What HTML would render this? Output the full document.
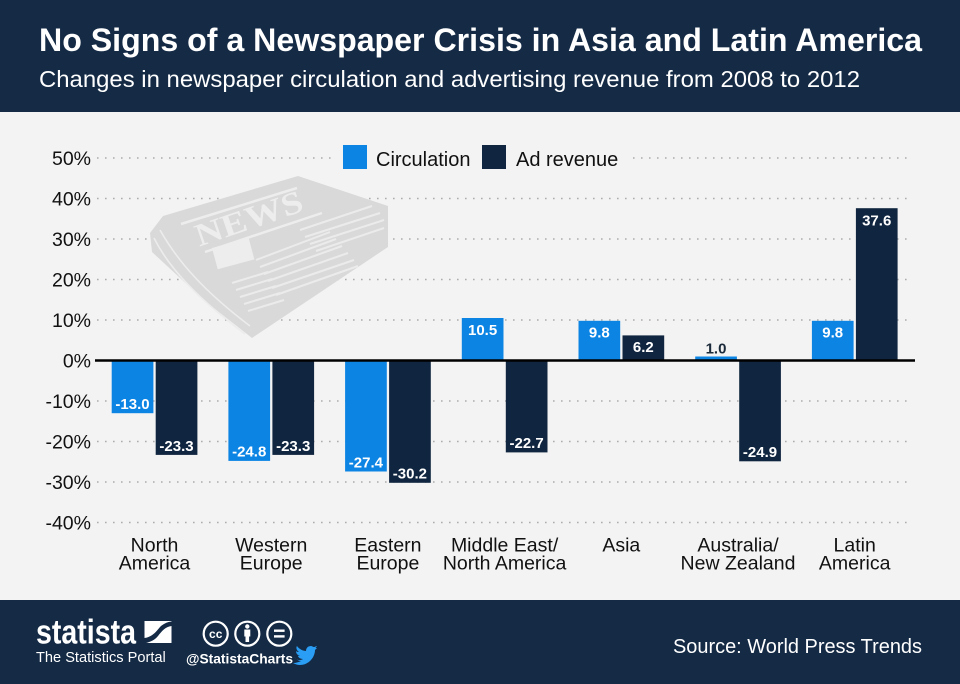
<!DOCTYPE html>
<html><head><meta charset="utf-8"><style>
html,body{margin:0;padding:0;background:#f3f3f3;}
svg{display:block;}
text{font-family:"Liberation Sans",Arial,sans-serif;}
</style></head><body>
<svg width="960" height="684" viewBox="0 0 960 684" xmlns="http://www.w3.org/2000/svg">
<rect x="0" y="0" width="960" height="684" fill="#f3f3f3"/>
<!-- header -->
<rect x="0" y="0" width="960" height="112" fill="#142a45"/>
<text x="39" y="51" font-size="32" font-weight="bold" fill="#ffffff" textLength="883" lengthAdjust="spacingAndGlyphs">No Signs of a Newspaper Crisis in Asia and Latin America</text>
<text x="39" y="87" font-size="23.5" fill="#ffffff" textLength="821" lengthAdjust="spacingAndGlyphs">Changes in newspaper circulation and advertising revenue from 2008 to 2012</text>

<!-- gridlines -->
<g stroke="#adadad" stroke-width="1.6" stroke-dasharray="1.6 6.4">
<line x1="97" y1="158" x2="910" y2="158"/>
<line x1="97" y1="198.5" x2="910" y2="198.5"/>
<line x1="97" y1="239" x2="910" y2="239"/>
<line x1="97" y1="279.5" x2="910" y2="279.5"/>
<line x1="97" y1="320" x2="910" y2="320"/>
<line x1="97" y1="401" x2="910" y2="401"/>
<line x1="97" y1="441.5" x2="910" y2="441.5"/>
<line x1="97" y1="482" x2="910" y2="482"/>
<line x1="97" y1="522.5" x2="910" y2="522.5"/>
</g>

<!-- newspaper watermark -->
<polygon points="163,216 298,176 388,206 388,247 252,338 206,302 152,252 150,233" fill="#d9d9d9"/>
<g stroke="#ececec" stroke-width="1.6" fill="none">
<path d="M154,238 C170,270 200,300 245,334"/>
<path d="M160,230 C178,262 205,292 250,326"/>
</g>
<g transform="translate(249,219) rotate(-19)">
<text x="0" y="10" style="font-family:'Liberation Serif',serif" font-size="32" font-weight="bold" fill="#ededed" text-anchor="middle" textLength="112" lengthAdjust="spacingAndGlyphs">NEWS</text>
</g>
<g stroke="#ededed" stroke-width="2.5">
<line x1="181" y1="224" x2="297" y2="188"/>
<line x1="205" y1="252" x2="322" y2="213"/>
</g>
<g transform="translate(212,248) rotate(-15)"><rect x="0" y="0" width="38" height="22" fill="#ededed"/></g>
<g stroke="#ebebeb" stroke-width="2">
<line x1="256" y1="260" x2="330" y2="232"/>
<line x1="260" y1="267" x2="336" y2="239"/>
<line x1="264" y1="274" x2="342" y2="246"/>
<line x1="268" y1="281" x2="348" y2="253"/>
<line x1="272" y1="288" x2="354" y2="260"/>
<line x1="276" y1="295" x2="358" y2="266"/>
<line x1="300" y1="230" x2="372" y2="206"/>
<line x1="305" y1="237" x2="380" y2="213"/>
<line x1="310" y1="244" x2="384" y2="220"/>
<line x1="316" y1="251" x2="384" y2="228"/>
<line x1="232" y1="283" x2="268" y2="272"/>
<line x1="236" y1="290" x2="272" y2="279"/>
<line x1="240" y1="297" x2="276" y2="286"/>
<line x1="244" y1="304" x2="280" y2="293"/>
<line x1="248" y1="311" x2="284" y2="300"/>
</g>

<!-- legend -->
<rect x="333" y="143" width="297" height="30" fill="#f3f3f3"/>
<rect x="343" y="145" width="24" height="24" fill="#0c84e4"/>
<text x="376" y="166" font-size="20" fill="#111">Circulation</text>
<rect x="482" y="145" width="24" height="24" fill="#10253f"/>
<text x="516" y="166" font-size="20" fill="#111">Ad revenue</text>

<!-- y-axis labels -->
<g font-size="19.5" fill="#111" text-anchor="end">
<text x="91" y="165">50%</text>
<text x="91" y="205.5">40%</text>
<text x="91" y="246">30%</text>
<text x="91" y="286.5">20%</text>
<text x="91" y="327">10%</text>
<text x="91" y="367.5">0%</text>
<text x="91" y="408">-10%</text>
<text x="91" y="448.5">-20%</text>
<text x="91" y="489">-30%</text>
<text x="91" y="529.5">-40%</text>
</g>

<!-- bars -->
<g fill="#0c84e4">
<rect x="111.7" y="360.5" width="41.7" height="52.7"/>
<rect x="228.4" y="360.5" width="41.7" height="100.4"/>
<rect x="345.1" y="360.5" width="41.7" height="111"/>
<rect x="461.8" y="318" width="41.7" height="42.5"/>
<rect x="578.5" y="320.8" width="41.7" height="39.7"/>
<rect x="695.2" y="356.5" width="41.7" height="4"/>
<rect x="811.9" y="320.8" width="41.7" height="39.7"/>
</g>
<g fill="#10253f">
<rect x="155.7" y="360.5" width="41.7" height="94.4"/>
<rect x="272.4" y="360.5" width="41.7" height="94.4"/>
<rect x="389.1" y="360.5" width="41.7" height="122.3"/>
<rect x="505.8" y="360.5" width="41.7" height="91.9"/>
<rect x="622.5" y="335.4" width="41.7" height="25.1"/>
<rect x="739.2" y="360.5" width="41.7" height="100.8"/>
<rect x="855.9" y="208.2" width="41.7" height="152.3"/>
</g>

<!-- zero line -->
<line x1="95" y1="360.5" x2="915" y2="360.5" stroke="#000" stroke-width="2.5"/>

<!-- value labels -->
<g font-size="15" font-weight="bold" fill="#ffffff" text-anchor="middle">
<text x="132.5" y="409">-13.0</text>
<text x="176.5" y="451">-23.3</text>
<text x="249.2" y="456.5">-24.8</text>
<text x="293.2" y="451">-23.3</text>
<text x="365.9" y="467.5">-27.4</text>
<text x="409.9" y="478.5">-30.2</text>
<text x="482.6" y="335">10.5</text>
<text x="526.6" y="448">-22.7</text>
<text x="599.3" y="337.5">9.8</text>
<text x="643.3" y="352">6.2</text>
<text x="760" y="457">-24.9</text>
<text x="832.7" y="337.5">9.8</text>
<text x="876.7" y="225.5">37.6</text>
</g>
<text x="716" y="353.5" font-size="15" font-weight="bold" fill="#1a2a3a" text-anchor="middle">1.0</text>

<!-- category labels -->
<g font-size="19.5" fill="#111" text-anchor="middle">
<text x="154.5" y="551.5">North</text><text x="154.5" y="569.5">America</text>
<text x="271.2" y="551.5">Western</text><text x="271.2" y="569.5">Europe</text>
<text x="387.9" y="551.5">Eastern</text><text x="387.9" y="569.5">Europe</text>
<text x="504.6" y="551.5">Middle East/</text><text x="504.6" y="569.5">North America</text>
<text x="621.3" y="551.5">Asia</text>
<text x="738" y="551.5">Australia/</text><text x="738" y="569.5">New Zealand</text>
<text x="854.7" y="551.5">Latin</text><text x="854.7" y="569.5">America</text>
</g>

<!-- footer -->
<rect x="0" y="600" width="960" height="84" fill="#142a45"/>
<text x="36" y="643.5" font-size="34" font-weight="bold" fill="#ffffff" textLength="100" lengthAdjust="spacingAndGlyphs">statista</text>
<g>
<rect x="144.5" y="621" width="27" height="22" fill="#ffffff"/>
<path d="M144.5,643 L144.5,638 C152,637 156,632 160,627 C163,624 167,622 171.5,621.5 L171.5,626 C165,627 162,631 158,636 C155,640 150,642 146,643 Z" fill="#142a45"/>
</g>
<text x="36" y="662" font-size="14.6" fill="#ffffff">The Statistics Portal</text>
<g stroke="#ffffff" stroke-width="2.2" fill="none">
<circle cx="215.7" cy="633.7" r="12"/>
<circle cx="247.3" cy="633.7" r="12"/>
<circle cx="279.3" cy="633.7" r="12"/>
</g>
<text x="215.7" y="638" font-size="12" font-weight="bold" fill="#ffffff" text-anchor="middle">cc</text>
<circle cx="247.3" cy="626.5" r="2.2" fill="#ffffff"/>
<rect x="244.3" y="629.5" width="6" height="7" fill="#ffffff"/>
<rect x="245.5" y="636" width="3.6" height="6" fill="#ffffff"/>
<rect x="274" y="629.5" width="10.6" height="2.4" fill="#ffffff"/>
<rect x="274" y="635.2" width="10.6" height="2.4" fill="#ffffff"/>
<text x="186" y="663.5" font-size="14" font-weight="bold" fill="#ffffff" textLength="107" lengthAdjust="spacingAndGlyphs">@StatistaCharts</text>
<path d="M297,655 C299,658 303,659 306,657 C303,657 301,655 301,654 C302,654 303,654 303,654 C300,653 299,651 299,649 C300,650 301,650 302,650 C299,648 299,645 300,644 C302,647 306,649 309,649 C309,646 311,644 314,644 C315,644 316,645 317,645 C318,645 319,644 320,644 C319,645 319,646 318,646 C319,646 320,646 320,646 C319,647 318,648 318,648 C318,655 312,663 303,663 C300,663 298,662 296,661 C299,661 302,660 304,659 C301,659 299,657 297,655 Z" fill="#2a9df4" transform="translate(-3,2)"/>
<text x="673" y="653" font-size="20" fill="#ffffff" textLength="249" lengthAdjust="spacingAndGlyphs">Source: World Press Trends</text>
</svg>
</body></html>
